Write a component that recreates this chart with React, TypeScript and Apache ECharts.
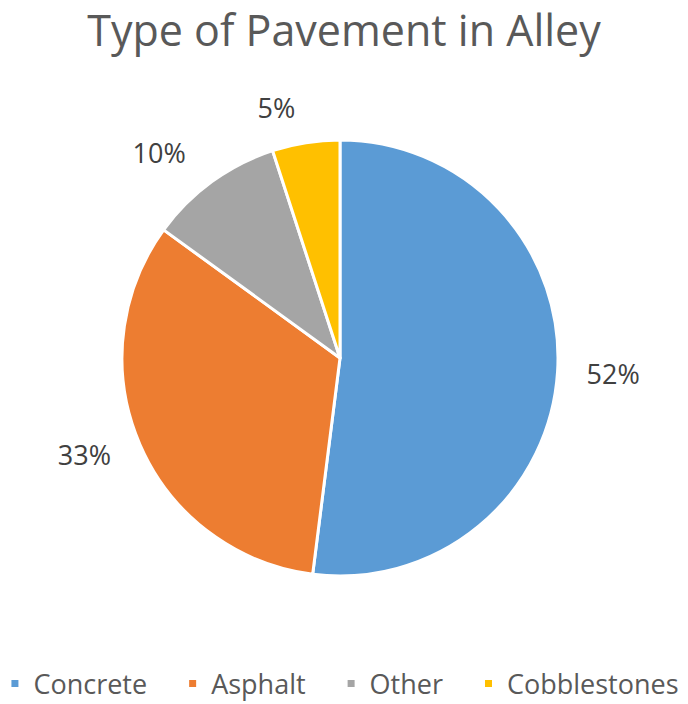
import React, { useEffect, useRef } from "react";
import * as echarts from "echarts";

const categories = ["Concrete", "Asphalt", "Other", "Cobblestones"];
const values = [52, 33, 10, 5];
const colors = ["#5B9BD5", "#ED7D31", "#A5A5A5", "#FFC000"];
const labelDistances = [24, 26, 36, 36];
const title = "Type of Pavement in Alley";

export default function App() {
  const ref = useRef<HTMLDivElement>(null);
  useEffect(() => {
    document.body.style.margin = "0";
    const chart = echarts.init(ref.current!, null, { renderer: "svg" });
    chart.setOption({
      animation: false,
      backgroundColor: "#ffffff",
      title: {
        text: title,
        left: "center",
        top: 3,
        textStyle: {
          fontFamily: "Open Sans",
          fontSize: 43,
          fontWeight: "normal",
          color: "#595959",
        },
      },
      legend: {
        bottom: 2,
        left: "center",
        icon: "rect",
        itemWidth: 9,
        itemHeight: 9,
        itemGap: 40,
        textStyle: {
          fontFamily: "Open Sans",
          fontSize: 27,
          color: "#595959",
          padding: [0, 0, 0, 9],
        },
        data: categories,
      },
      series: [
        {
          type: "pie",
          center: [340, 358],
          radius: 218,
          startAngle: 90,
          clockwise: true,
          data: categories.map((c, i) => ({
            name: c,
            value: values[i],
            itemStyle: { color: colors[i] },
            labelLine: { show: false, length: labelDistances[i], length2: 0 },
          })),
          itemStyle: { borderColor: "#ffffff", borderWidth: 3 },
          label: {
            show: true,
            position: "outside",
            formatter: "{c}%",
            fontFamily: "Open Sans",
            fontSize: 27,
            color: "#404040",
          },
          labelLine: { show: false, length: 24, length2: 0 },
        },
      ],
    });
    return () => chart.dispose();
  }, []);
  return <div ref={ref} style={{ width: 688, height: 704 }} />;
}
